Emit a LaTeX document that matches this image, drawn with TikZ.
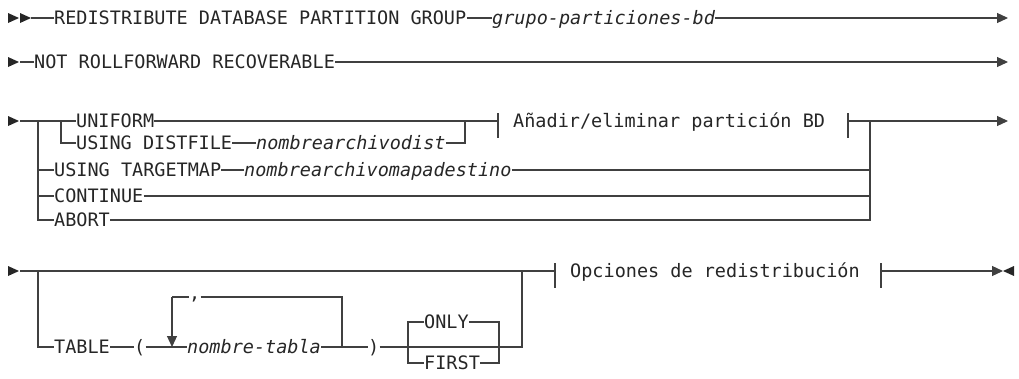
\documentclass[tikz,border=0pt]{standalone}
\usepackage{fontspec}
\setmonofont{DejaVu Sans Mono}
\usetikzlibrary{arrows.meta}

\tikzset{
  rail/.style={line width=1.2pt, draw=black!75},
  railend/.style={-{Triangle[length=11pt,width=10pt]}},
  kw/.style={anchor=west, inner xsep=0pt, inner ysep=0pt, text height=13.4pt,
    text depth=0pt, text=black!85, font=\fontsize{18.5}{20}\selectfont\ttfamily},
  var/.style={kw, font=\fontsize{18.5}{20}\selectfont\ttfamily\itshape},
}
\newcommand{\railstart}[1]{\fill[black!85] (#1) ++(0,-5) -- ++(11,5) -- ++(-11,5) -- cycle;}
\newcommand{\railback}[1]{\fill[black!85] (#1) ++(11,-5) -- ++(-11,5) -- ++(11,5) -- cycle;}

\begin{document}
\begin{tikzpicture}[x=1pt,y=-1pt]
    \useasboundingbox (0,0) rectangle (1019,378);
    % first line
    \node[kw] (redist) at (54,18) {REDISTRIBUTE DATABASE PARTITION GROUP};
    \node[var] (grupo) at (492,18) {grupo-particiones-bd};
    \coordinate (s1) at (31,18);
    \coordinate (e1) at (1008,18);
    \railstart{8,18} \railstart{20,18}
    \draw[rail] (s1) -- (redist.west);
    \draw[rail] (redist.east) -- (grupo.west);
    \draw[rail, railend] (grupo.east) -- (e1);

    % second line
    \node[kw] (notroll) at (34,62) {NOT ROLLFORWARD RECOVERABLE};
    \coordinate (s2) at (20,62);
    \coordinate (e2) at (1008,62);
    \railstart{8,62}
    \draw[rail] (s2) -- (notroll.west);
    \draw[rail, railend] (notroll.east) -- (e2);

    % third line
    \coordinate (s3) at (20,121);
    \coordinate (j3a) at (38,121);
    \coordinate (j3b) at (61,121);
    \coordinate (j3c) at (465,121);
    \coordinate (bar1) at (498,121);
    \coordinate (bar2) at (848,121);
    \coordinate (j3d) at (870,121);
    \coordinate (e3) at (1008,121);
    \node[kw] (uniform) at (76,121) {UNIFORM};
    \node[kw] (distfile) at (76,143) {USING DISTFILE};
    \node[var] (nomdist) at (256,143) {nombrearchivodist};
    \node[kw] (target) at (54,170) {USING TARGETMAP};
    \node[var] (nomdest) at (244,170) {nombrearchivomapadestino};
    \node[kw] (cont) at (54,196) {CONTINUE};
    \node[kw] (abort) at (54,220) {ABORT};
    \node[kw] (anadir) at (513,121) {Añadir/eliminar partición BD};
    \railstart{8,121}
    \draw[rail] (s3) -- (uniform.west);
    \draw[rail] (uniform.east) -- (bar1);
    \draw[rail] (j3b) |- (distfile.west);
    \draw[rail] (distfile.east) -- (nomdist.west);
    \draw[rail] (nomdist.east) -| (j3c);
    \draw[rail] (j3a) |- (abort.west);
    \draw[rail] (j3a |- target) -- (target.west);
    \draw[rail] (target.east) -- (nomdest.west);
    \draw[rail] (nomdest.east) -- (nomdest.east -| j3d);
    \draw[rail] (j3a |- cont) -- (cont.west);
    \draw[rail] (cont.east) -- (cont.east -| j3d);
    \draw[rail] (abort.east) -| (j3d);
    \draw[rail] (bar1) ++(0,-8) -- ++(0,25);
    \draw[rail] (bar2) ++(0,-8) -- ++(0,25);
    \draw[rail, railend] (bar2) -- (e3);

    % fourth line
    \coordinate (s4) at (20,271);
    \coordinate (j4a) at (38,271);
    \coordinate (j4b) at (522,271);
    \coordinate (bar3) at (555,271);
    \coordinate (bar4) at (881,271);
    \coordinate (e4) at (1003,271);
    \coordinate (lp1) at (172,297);
    \coordinate (lp2) at (342,297);
    \coordinate (of1) at (408,347);
    \coordinate (of2) at (499,347);
    \node[kw] (table) at (54,347) {TABLE};
    \node[kw] (lpar) at (134,347) {(};
    \node[var] (nomtab) at (187,347) {nombre-tabla};
    \node[kw] (comma) at (189,293) {,};
    \node[kw] (rpar) at (368,347) {)};
    \node[kw] (only) at (424,322) {ONLY};
    \node[kw] (first) at (424,363) {FIRST};
    \node[kw] (opciones) at (570,271) {Opciones de redistribución};
    \railstart{8,271}
    \draw[rail] (s4) -- (bar3);
    \draw[rail] (j4a) |- (table.west);
    \draw[rail] (table.east) -- (lpar.west);
    \draw[rail] (lpar.east) -- (nomtab.west);
    \draw[rail] (nomtab.east) -- (rpar.west);
    \draw[rail] (rpar.east) -| (j4b);
    \draw[rail] (lp1) -- (comma.west |- lp1);
    \draw[rail] (comma.east |- lp2) -- (lp2) -- (lp2 |- nomtab);
    \draw[rail, railend] (lp1) -- (lp1 |- nomtab);
    \draw[rail] (only.west) -| (of1 |- first) -- (first.west);
    \draw[rail] (only.east) -| (of2 |- first) -- (first.east);
    \draw[rail] (bar3) ++(0,-8) -- ++(0,25);
    \draw[rail] (bar4) ++(0,-8) -- ++(0,25);
    \draw[rail, railend] (bar4) -- (e4);
    \railback{e4}
\end{tikzpicture}
\end{document}
